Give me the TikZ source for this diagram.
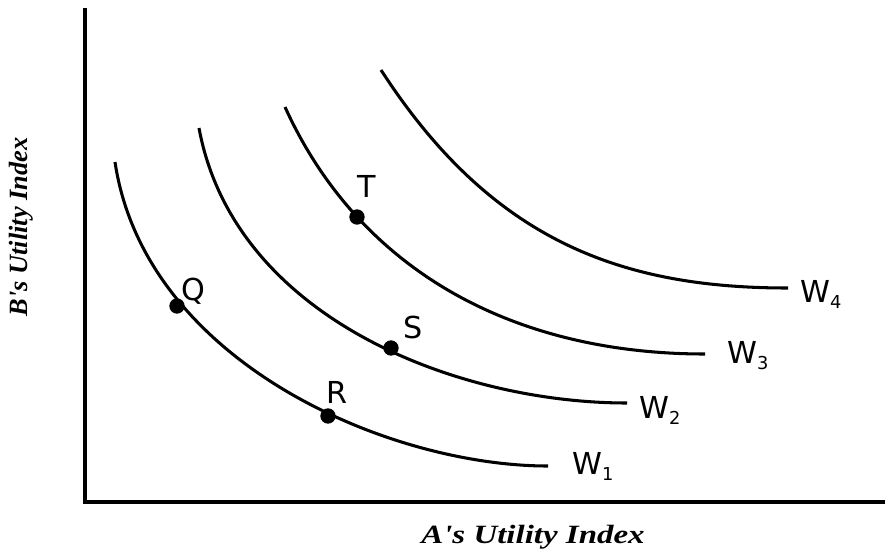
\documentclass[tikz,border=0pt]{standalone}
\usepackage{fontspec}
\setmainfont{DejaVu Sans}
\newfontfamily\axisfont{Liberation Serif}
\usepackage{tikz}
\usetikzlibrary{positioning}
\tikzstyle{axis} = [line width=3.4pt, line join=miter]
\tikzstyle{curve} = [line width=2.6pt]
\tikzstyle{dot} = [circle, fill=black, inner sep=0pt, minimum size=0.46cm]
\tikzstyle{ptlabel} = [anchor=base west, inner sep=0pt, font=\fontsize{25.8}{30}\selectfont]
\tikzstyle{axislabel} = [anchor=base, inner sep=0pt, font=\axisfont\bfseries\itshape\fontsize{22.5}{27}\selectfont]
\newcommand{\wlab}[1]{W\raisebox{-5.5pt}{\fontsize{15.2}{16}\selectfont #1}}

\begin{document}
\begin{tikzpicture}[x=0.03cm, y=-0.03cm]
	\useasboundingbox (0,0) rectangle (885,551);

	% axes
	\coordinate (top) at (85,8);
	\coordinate (origin) at (85,502);
	\coordinate (right) at (885,502);
	\draw[axis] (top) -- (origin) -- (right);

	\node (ylab) [axislabel, rotate=90] at (28,227) {B's Utility Index};
	\node (xlab) [axislabel, xscale=1.25] at (533,543) {A's Utility Index};

	% welfare curves
	\draw[curve] (115,162) .. controls (145,362) and (388,466) .. (548,466);
	\draw[curve] (199,128) .. controls (234,318) and (457,403) .. (627,403);
	\draw[curve] (285,107) .. controls (360,272) and (515,354) .. (705,354);
	\draw[curve] (381,70) .. controls (491,240) and (620,288) .. (788,288);

	\node (w1) [ptlabel] at (572,474) {\wlab{1}};
	\node (w2) [ptlabel] at (639,418) {\wlab{2}};
	\node (w3) [ptlabel] at (727,363) {\wlab{3}};
	\node (w4) [ptlabel] at (800,302) {\wlab{4}};

	% points
	\node (q) [dot] at (177,306) {};
	\node (r) [dot] at (328,416) {};
	\node (s) [dot] at (391,348) {};
	\node (t) [dot] at (357,217) {};

	\node (qlab) [ptlabel] at (181,300) {Q};
	\node (rlab) [ptlabel] at (326,403) {R};
	\node (slab) [ptlabel] at (403,338) {S};
	\node (tlab) [ptlabel] at (357,197) {T};
\end{tikzpicture}
\end{document}
